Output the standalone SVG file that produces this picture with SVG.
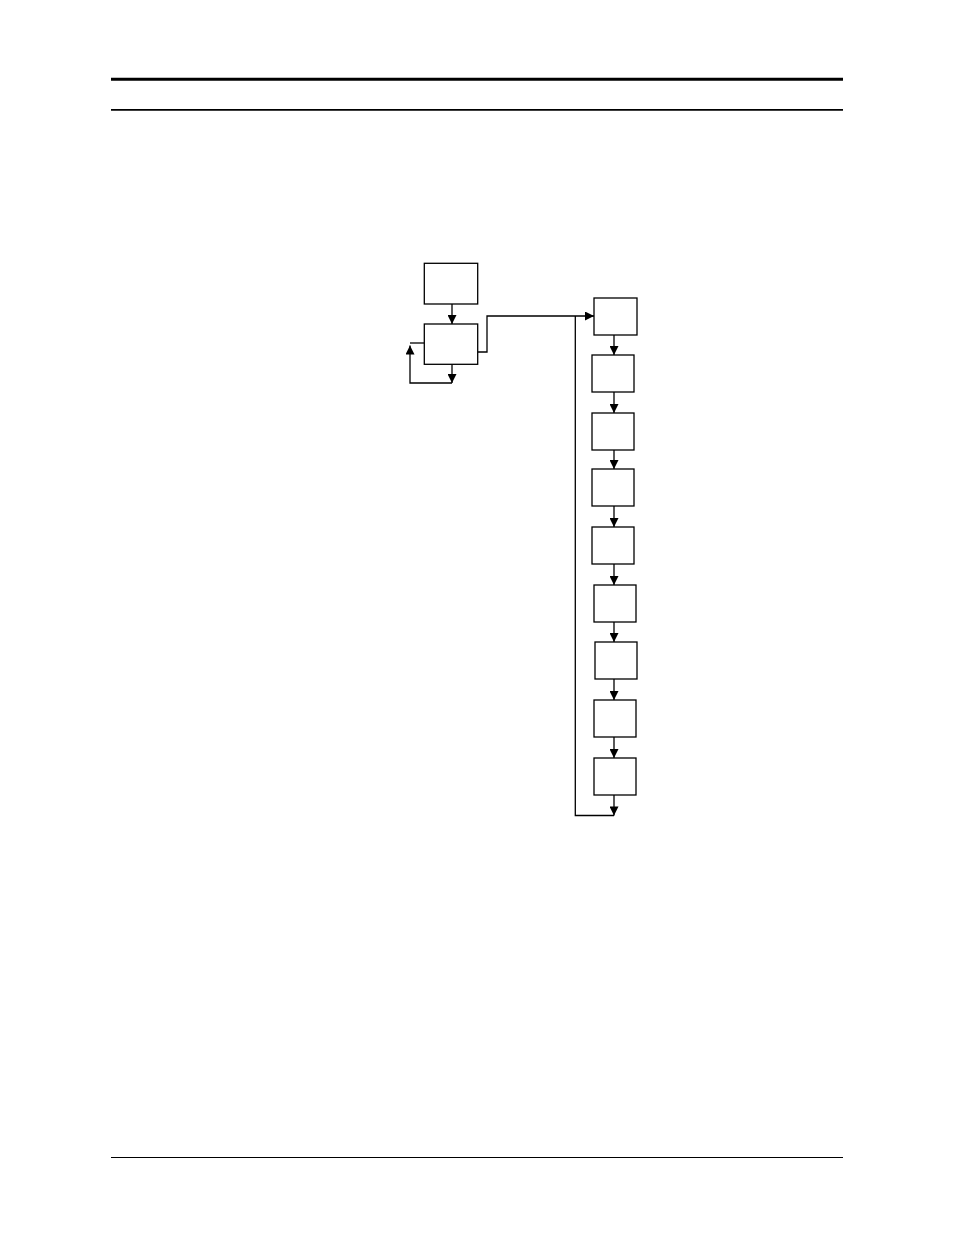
<svg xmlns="http://www.w3.org/2000/svg" width="954" height="1235" viewBox="0 0 954 1235">
<style>
.box{fill:#fff;stroke:#000;stroke-width:1.3}
.ln{fill:none;stroke:#000;stroke-width:1.3}
</style>
<defs>
<marker id="ah" viewBox="0 0 10 10" refX="10" refY="5" markerUnits="userSpaceOnUse" markerWidth="10" markerHeight="9" orient="auto">
<path d="M0,0 L10,5 L0,10 z" fill="#000"/>
</marker>
</defs>
<rect width="954" height="1235" fill="#fff"/>
<g id="page-rules">
<line x1="111" y1="79.3" x2="843" y2="79.3" stroke="#000" stroke-width="3"/>
<line x1="111" y1="109.8" x2="843" y2="109.8" stroke="#000" stroke-width="1.8"/>
<line x1="111" y1="1157.5" x2="843" y2="1157.5" stroke="#000" stroke-width="1"/>
</g>
<g id="connectors">
<line class="ln" x1="452" y1="304" x2="452" y2="324" marker-end="url(#ah)"/>
<line class="ln" x1="452" y1="364" x2="452" y2="383" marker-end="url(#ah)"/>
<polyline class="ln" points="452,383 410,383 410,345.5" marker-end="url(#ah)"/>
<line class="ln" x1="410" y1="343" x2="424" y2="343"/>
<polyline class="ln" points="478,352 487,352 487,316 594,316" marker-end="url(#ah)"/>
<polyline class="ln" points="575.3,316 575.3,815.5 614,815.5"/>
<line class="ln" x1="614" y1="335" x2="614" y2="355" marker-end="url(#ah)"/>
<line class="ln" x1="614" y1="392" x2="614" y2="413" marker-end="url(#ah)"/>
<line class="ln" x1="614" y1="450" x2="614" y2="469" marker-end="url(#ah)"/>
<line class="ln" x1="614" y1="506" x2="614" y2="527" marker-end="url(#ah)"/>
<line class="ln" x1="614" y1="564" x2="614" y2="585" marker-end="url(#ah)"/>
<line class="ln" x1="614" y1="622" x2="614" y2="642" marker-end="url(#ah)"/>
<line class="ln" x1="614" y1="679" x2="614" y2="700" marker-end="url(#ah)"/>
<line class="ln" x1="614" y1="737" x2="614" y2="758" marker-end="url(#ah)"/>
<line class="ln" x1="614" y1="795" x2="614" y2="815.5" marker-end="url(#ah)"/>
</g>
<g id="node-a"><rect class="box" x="424.3" y="263.3" width="53.4" height="40.7"/></g>
<g id="node-b"><rect class="box" x="424.3" y="324" width="53.4" height="40.3"/></g>
<g id="node-c"><rect class="box" x="594" y="298" width="43" height="37"/></g>
<g id="node-d"><rect class="box" x="592" y="355" width="42" height="37"/></g>
<g id="node-e"><rect class="box" x="592" y="413" width="42" height="37"/></g>
<g id="node-f"><rect class="box" x="592" y="469" width="42" height="37"/></g>
<g id="node-g"><rect class="box" x="592" y="527" width="42" height="37"/></g>
<g id="node-h"><rect class="box" x="594" y="585" width="42" height="37"/></g>
<g id="node-i"><rect class="box" x="595" y="642" width="42" height="37"/></g>
<g id="node-j"><rect class="box" x="594" y="700" width="42" height="37"/></g>
<g id="node-k"><rect class="box" x="594" y="758" width="42" height="37"/></g>
</svg>
